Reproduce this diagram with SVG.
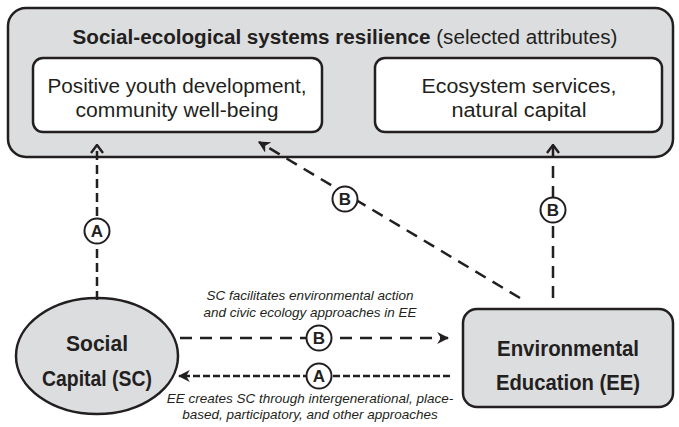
<svg xmlns="http://www.w3.org/2000/svg" width="679" height="427" viewBox="0 0 679 427">
<defs>
<style>
.box{fill:#dcdddf;stroke:#231f20;stroke-width:2.5}
.inner{fill:#fff;stroke:#231f20;stroke-width:2.5}
.t{font-family:"Liberation Sans",Arial,sans-serif;fill:#231f20}
.lbl{font-size:20px;text-anchor:middle}
.big{font-size:22px;font-weight:bold;text-anchor:middle}
.it{font-size:13.5px;font-style:italic;text-anchor:middle}
.con{fill:none;stroke:#231f20;stroke-width:2.5}
.badge circle{fill:#fff;stroke:#231f20;stroke-width:2}
.badge text{font-family:"Liberation Sans",Arial,sans-serif;font-size:17px;font-weight:bold;text-anchor:middle;fill:#231f20}
</style>
<marker id="chev" viewBox="0 0 10 14" refX="9" refY="7" markerWidth="10" markerHeight="14" markerUnits="userSpaceOnUse" orient="auto">
<path d="M1,1 L9,7 L1,13" fill="none" stroke="#231f20" stroke-width="2.4"/>
</marker>
<marker id="head" viewBox="0 0 10 10" refX="9" refY="5" markerWidth="12" markerHeight="12" markerUnits="userSpaceOnUse" orient="auto">
<path d="M0,0 L10,5 L0,10 L3,5 z" fill="#231f20"/>
</marker>
</defs>

<g id="ses">
<rect class="box" x="8" y="8" width="665" height="149" rx="18"/>
<text class="t" x="345" y="44" font-size="20" text-anchor="middle" textLength="545" lengthAdjust="spacingAndGlyphs"><tspan font-weight="bold">Social-ecological systems resilience</tspan> (selected attributes)</text>
</g>
<g id="pyd">
<rect class="inner" x="33" y="58" width="289" height="74" rx="10"/>
<text class="t lbl" x="177" y="93" textLength="259" lengthAdjust="spacingAndGlyphs">Positive youth development,</text>
<text class="t lbl" x="177" y="117" textLength="203" lengthAdjust="spacingAndGlyphs">community well-being</text>
</g>
<g id="es">
<rect class="inner" x="375" y="58" width="287" height="74" rx="10"/>
<text class="t lbl" x="519" y="93" textLength="195" lengthAdjust="spacingAndGlyphs">Ecosystem services,</text>
<text class="t lbl" x="519" y="117" textLength="135" lengthAdjust="spacingAndGlyphs">natural capital</text>
</g>
<g id="sc">
<ellipse class="box" cx="97" cy="356" rx="81" ry="58"/>
<text class="t big" x="97" y="351" textLength="62" lengthAdjust="spacingAndGlyphs">Social</text>
<text class="t big" x="97" y="386" textLength="110" lengthAdjust="spacingAndGlyphs">Capital (SC)</text>
</g>
<g id="ee">
<rect class="box" x="463" y="309" width="210" height="98" rx="14"/>
<text class="t big" x="568" y="356" textLength="142" lengthAdjust="spacingAndGlyphs">Environmental</text>
<text class="t big" x="568" y="390" textLength="144" lengthAdjust="spacingAndGlyphs">Education (EE)</text>
</g>

<g id="connectors">
<line class="con" x1="97" y1="300" x2="97" y2="145" stroke-dasharray="9,5" marker-end="url(#chev)"/>
<line class="con" x1="553" y1="298" x2="553" y2="145" stroke-dasharray="12,8" marker-end="url(#chev)"/>
<line class="con" x1="520" y1="298" x2="259" y2="142" stroke-dasharray="12,8" marker-end="url(#head)"/>
<line class="con" x1="180" y1="338" x2="448" y2="338" stroke-dasharray="12,8" marker-end="url(#head)"/>
<line class="con" x1="450" y1="376" x2="179" y2="376" stroke-dasharray="7,3" marker-end="url(#head)"/>
<g class="badge"><circle cx="97" cy="231" r="12.5"/><text x="97" y="237">A</text></g>
<g class="badge"><circle cx="345" cy="199" r="12.5"/><text x="345" y="205">B</text></g>
<g class="badge"><circle cx="553" cy="210" r="12.5"/><text x="553" y="216">B</text></g>
<g class="badge"><circle cx="319" cy="338" r="12.5"/><text x="319" y="344">B</text></g>
<g class="badge"><circle cx="319" cy="376" r="12.5"/><text x="319" y="382">A</text></g>
<text class="t it" x="310" y="300">SC facilitates environmental action</text>
<text class="t it" x="310" y="317">and civic ecology approaches in EE</text>
<text class="t it" x="310" y="403">EE creates SC through intergenerational, place-</text>
<text class="t it" x="310" y="419">based, participatory, and other approaches</text>
</g>
</svg>
